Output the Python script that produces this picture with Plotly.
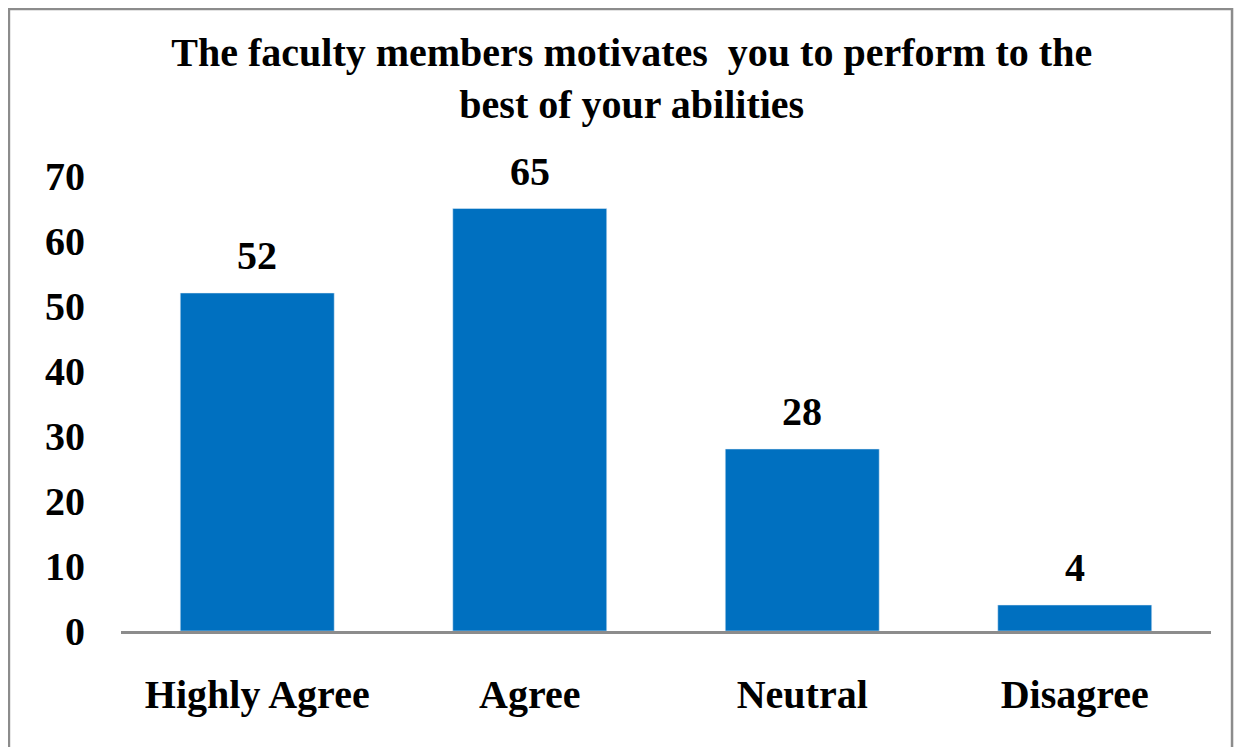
import plotly.graph_objects as go

categories = ["Highly Agree", "Agree", "Neutral", "Disagree"]
values = [52, 65, 28, 4]
y_ticks = [0, 10, 20, 30, 40, 50, 60, 70]

font = dict(family="Liberation Serif", size=40, color="black", weight="bold")

fig = go.Figure()
fig.add_trace(go.Bar(x=categories, y=values, marker_color="#0070C0", width=0.565))

# value labels above bars
for c, v in zip(categories, values):
    fig.add_annotation(x=c, y=v, text=str(v), showarrow=False, yanchor="bottom",
                       yshift=13, font=font)

# outer frame
fig.add_shape(type="rect", xref="paper", yref="paper",
              x0=-0.1028, x1=1.0193, y0=-0.29, y1=1.367,
              line=dict(color="#8c8c8c", width=2.5), layer="above")

fig.update_layout(
    width=1245, height=747,
    margin=dict(l=113, r=42, t=168, b=124),
    paper_bgcolor="white", plot_bgcolor="white",
    showlegend=False,
    bargap=0.435,
    title=dict(text="The faculty members motivates  you to perform to the<br>best of your abilities",
               x=0.501, xanchor="center", y=0.922, yanchor="top",
               font=dict(family="Liberation Serif", size=40, color="black", weight="bold")),
    xaxis=dict(showline=True, linecolor="#8c8c8c", linewidth=3, showgrid=False,
               ticks="", tickfont=font, ticklabelstandoff=26),
    yaxis=dict(range=[0, 70], tickvals=y_ticks, showgrid=False, zeroline=False,
               showline=False, ticks="", tickfont=font, ticklabelstandoff=35),
)

fig.write_html("out.html")
